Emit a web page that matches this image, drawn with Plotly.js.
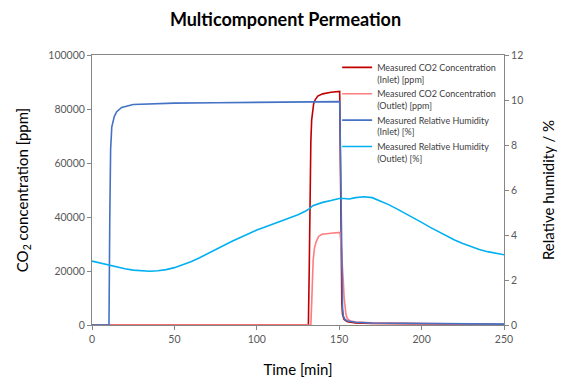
<!DOCTYPE html>
<html>
<head>
<meta charset="utf-8">
<script src="https://cdn.plot.ly/plotly-3.0.1.min.js"></script>
<style>html,body{margin:0;padding:0;background:#fff;}#chart{width:571px;height:387px;}</style>
</head>
<body>
<div id="chart"></div>
<script>
// Time [min] and values
const co2InletT = [0, 131.3, 131.8, 132.3, 132.8, 133.3, 133.8, 134.5, 135.5, 137, 140, 145, 150.3, 150.8, 151.2, 151.6, 152, 153, 155, 160, 170, 200, 250];
const co2InletV = [0, 0, 20000, 50000, 68000, 76000, 80000, 82000, 83500, 84800, 85600, 86200, 86500, 50000, 20000, 8000, 4000, 2000, 1200, 800, 600, 400, 200];

const co2OutletT = [0, 132.8, 133.3, 133.8, 134.2, 135, 136, 137.5, 139.5, 145, 150.5, 151, 151.5, 152, 152.5, 153, 153.5, 154, 154.5, 155.5, 157, 160, 170, 200, 250];
const co2OutletV = [0, 0, 8000, 17000, 24000, 28500, 30800, 32800, 33600, 34000, 34300, 31000, 27000, 22000, 16000, 10000, 6500, 4500, 3000, 2000, 1500, 1100, 800, 500, 300];

const rhInletT = [0, 10.3, 10.8, 11.3, 12, 13.5, 15, 18, 25, 40, 50, 75, 100, 125, 150.3, 150.7, 151.1, 151.5, 152, 152.5, 153.5, 155, 160, 170, 200, 250];
const rhInletV = [0, 0, 4.8, 7.8, 8.8, 9.26, 9.48, 9.67, 9.8, 9.85, 9.86, 9.88, 9.9, 9.92, 9.93, 8, 5, 2.5, 0.8, 0.4, 0.25, 0.18, 0.12, 0.09, 0.06, 0.04];

const rhOutletT = [0, 5, 10, 15, 20, 25, 30, 35, 40, 45, 50, 55, 60, 65, 70, 75, 80, 85, 90, 95, 100, 105, 110, 115, 120, 125, 130, 132, 134, 136, 140, 145, 150, 153, 156, 160, 165, 170, 175, 180, 185, 190, 195, 200, 205, 210, 215, 220, 225, 230, 235, 240, 245, 250];
const rhOutletV = [2.84, 2.75, 2.65, 2.57, 2.5, 2.44, 2.4, 2.39, 2.41, 2.46, 2.55, 2.67, 2.81, 2.98, 3.17, 3.36, 3.55, 3.72, 3.89, 4.06, 4.22, 4.36, 4.49, 4.62, 4.74, 4.9, 5.08, 5.17, 5.3, 5.36, 5.45, 5.53, 5.62, 5.62, 5.6, 5.66, 5.7, 5.66, 5.52, 5.35, 5.16, 4.97, 4.77, 4.56, 4.35, 4.15, 3.96, 3.78, 3.62, 3.48, 3.36, 3.26, 3.18, 3.12];

const names = [
  'Measured CO2 Concentration<br>(Inlet) [ppm]',
  'Measured CO2 Concentration<br>(Outlet) [ppm]',
  'Measured Relative Humidity<br>(Inlet) [%]',
  'Measured Relative Humidity<br>(Outlet) [%]'
];
const colors = ['#C00000', '#FF7C80', '#4472C4', '#00B0F0'];

const F = 'Lato, "Open Sans", sans-serif';
const lw = 1.6;
const traces = [
  {x: co2InletT, y: co2InletV, name: names[0], yaxis: 'y', line: {color: colors[0], width: lw}},
  {x: co2OutletT, y: co2OutletV, name: names[1], yaxis: 'y', line: {color: colors[1], width: lw}},
  {x: rhInletT, y: rhInletV, name: names[2], yaxis: 'y2', line: {color: colors[2], width: lw}},
  {x: rhOutletT, y: rhOutletV, name: names[3], yaxis: 'y2', line: {color: colors[3], width: lw}}
].map(t => Object.assign({type: 'scatter', mode: 'lines', cliponaxis: false}, t));

const axisCol = '#868686';
const tickFont = {family: F, size: 10.5, color: '#595959'};
const layout = {
  width: 571, height: 387,
  margin: {l: 92, r: 67, t: 55, b: 62},
  paper_bgcolor: '#fff', plot_bgcolor: '#fff',
  showlegend: true,
  title: {text: '<b>Multicomponent Permeation</b>', font: {family: F, size: 18, color: '#000'}, x: 0.5, xanchor: 'center', y: 0.948, yanchor: 'middle'},
  xaxis: {
    range: [0, 250], tick0: 0, dtick: 50, showgrid: false, zeroline: false,
    showline: true, linecolor: axisCol, linewidth: 1, mirror: true,
    ticks: 'outside', ticklen: 4, tickcolor: axisCol, tickfont: tickFont,
    layer: 'below traces',
    title: {text: 'Time [min]', font: {family: F, size: 15, color: '#000'}, standoff: 20}
  },
  yaxis: {
    range: [0, 100000], tick0: 0, dtick: 20000, tickformat: 'd', showgrid: false, zeroline: false,
    showline: true, linecolor: axisCol, linewidth: 1,
    ticks: 'outside', ticklen: 4, tickcolor: axisCol, tickfont: tickFont,
    layer: 'below traces',
    title: {text: 'CO<sub>2</sub> concentration [ppm]', font: {family: F, size: 15, color: '#000'}, standoff: 16}
  },
  yaxis2: {
    range: [0, 12], tick0: 0, dtick: 2, overlaying: 'y', side: 'right', showgrid: false, zeroline: false,
    showline: true, linecolor: axisCol, linewidth: 1,
    ticks: 'outside', ticklen: 4, tickcolor: axisCol, tickfont: tickFont,
    layer: 'below traces',
    title: {text: 'Relative humidity / %', font: {family: F, size: 15, color: '#000'}, standoff: 21}
  },
  legend: {
    x: 0.595, xanchor: 'left', y: 1.0, yanchor: 'top',
    bgcolor: 'rgba(255,255,255,0)', borderwidth: 0,
    font: {family: F, size: 9, color: '#404040'},
    valign: 'top', itemwidth: 30, tracegroupgap: 0
  }
};

Plotly.newPlot('chart', traces, layout, {displayModeBar: false, staticPlot: true});
</script>
</body>
</html>
